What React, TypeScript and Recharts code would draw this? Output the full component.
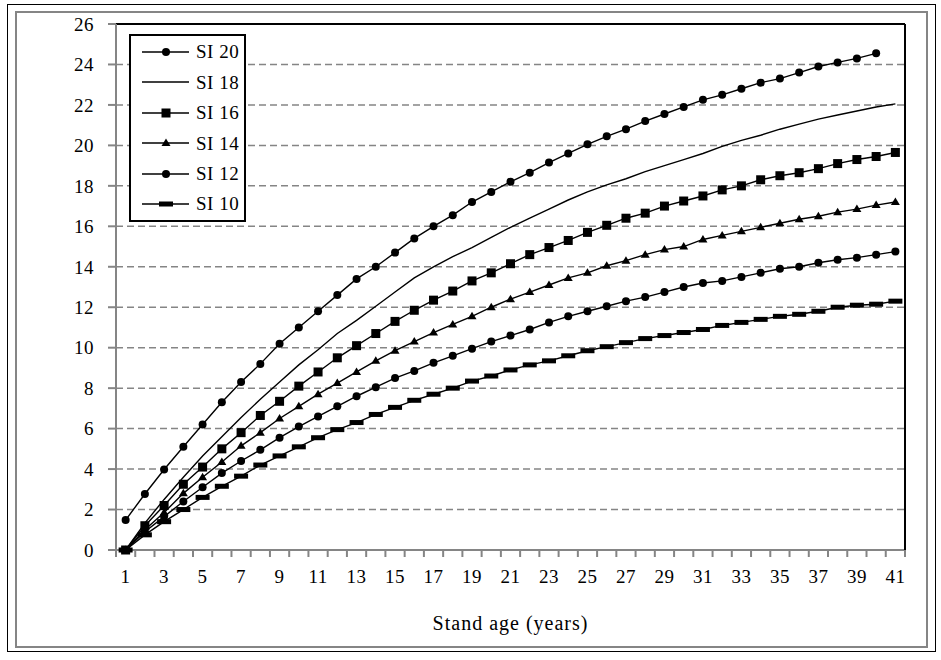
import React from 'react';
import { LineChart, Line, XAxis, YAxis, CartesianGrid, Legend } from 'recharts';

const ages = [
  1, 2, 3, 4, 5, 6, 7, 8, 9, 10, 11, 12, 13, 14, 15, 16, 17, 18, 19, 20,
  21, 22, 23, 24, 25, 26, 27, 28, 29, 30, 31, 32, 33, 34, 35, 36, 37, 38, 39, 40, 41
];

const si20 = [
  1.48, 2.77, 3.98, 5.1, 6.2, 7.3, 8.3, 9.2, 10.2, 11.0, 11.8, 12.6, 13.4, 14.0, 14.7, 15.4, 16.0, 16.55, 17.2, 17.7,
  18.2, 18.65, 19.15, 19.6, 20.05, 20.45, 20.8, 21.2, 21.55, 21.9, 22.25, 22.5, 22.8, 23.1, 23.3, 23.6, 23.9, 24.1, 24.3, 24.55, null
];
const si18 = [
  0, 1.33, 2.5, 3.6, 4.65, 5.6, 6.55, 7.45, 8.3, 9.15, 9.9, 10.7, 11.35, 12.05, 12.75, 13.45, 14.0, 14.5, 14.95, 15.45,
  15.95, 16.4, 16.85, 17.3, 17.7, 18.05, 18.35, 18.7, 19.0, 19.3, 19.6, 19.95, 20.25, 20.5, 20.8, 21.05, 21.3, 21.5, 21.7, 21.9, 22.05
];
const si16 = [
  0, 1.2, 2.2, 3.25, 4.1, 5.0, 5.8, 6.65, 7.35, 8.1, 8.8, 9.5, 10.1, 10.7, 11.3, 11.85, 12.35, 12.8, 13.3, 13.7,
  14.15, 14.6, 14.95, 15.3, 15.7, 16.05, 16.4, 16.65, 17.0, 17.25, 17.5, 17.8, 18.0, 18.3, 18.5, 18.65, 18.85, 19.1, 19.3, 19.45, 19.65
];
const si14 = [
  0, 1.0, 1.85, 2.8, 3.6, 4.35, 5.15, 5.8, 6.5, 7.1, 7.7, 8.25, 8.8, 9.35, 9.85, 10.3, 10.75, 11.15, 11.55, 12.0,
  12.4, 12.75, 13.1, 13.45, 13.7, 14.05, 14.3, 14.6, 14.85, 15.0, 15.35, 15.55, 15.75, 15.95, 16.15, 16.35, 16.5, 16.7, 16.85, 17.05, 17.2
];
const si12 = [
  0, 0.9, 1.65, 2.4, 3.1, 3.8, 4.4, 4.95, 5.55, 6.1, 6.6, 7.1, 7.6, 8.05, 8.5, 8.85, 9.25, 9.6, 9.95, 10.3,
  10.6, 10.9, 11.25, 11.55, 11.8, 12.05, 12.3, 12.5, 12.75, 13.0, 13.2, 13.3, 13.5, 13.7, 13.9, 14.0, 14.2, 14.35, 14.45, 14.6, 14.75
];
const si10 = [
  0, 0.75, 1.4, 2.0, 2.6, 3.15, 3.65, 4.2, 4.65, 5.1, 5.55, 5.95, 6.3, 6.7, 7.05, 7.4, 7.7, 8.0, 8.35, 8.6,
  8.9, 9.15, 9.35, 9.6, 9.85, 10.05, 10.25, 10.45, 10.6, 10.75, 10.9, 11.1, 11.25, 11.4, 11.55, 11.65, 11.8, 12.0, 12.1, 12.15, 12.3
];

const yTicks = [0, 2, 4, 6, 8, 10, 12, 14, 16, 18, 20, 22, 24, 26];

const seriesNames = ['SI 20', 'SI 18', 'SI 16', 'SI 14', 'SI 12', 'SI 10'];
const seriesKeys = ['si20', 'si18', 'si16', 'si14', 'si12', 'si10'];
const seriesMarkers = ['circle', 'none', 'square', 'triangle', 'circle', 'bar'];

const data = ages.map((age, i) => ({
  age,
  si20: si20[i],
  si18: si18[i],
  si16: si16[i],
  si14: si14[i],
  si12: si12[i],
  si10: si10[i],
}));

const FONT = 'Liberation Serif';
const GRAY = '#858585';
const PLOT_LEFT = 116;
const PLOT_RIGHT = 905;
const BAND = (PLOT_RIGHT - PLOT_LEFT) / ages.length;

function marker(kind: string, cx: number, cy: number, key?: any) {
  if (kind === 'circle') return <circle key={key} cx={cx} cy={cy} r={4} fill="#000" />;
  if (kind === 'square') return <rect key={key} x={cx - 4.5} y={cy - 4.5} width={9} height={9} fill="#000" />;
  if (kind === 'triangle')
    return <polygon key={key} points={`${cx},${cy - 4.5} ${cx - 4.5},${cy + 3} ${cx + 4.5},${cy + 3}`} fill="#000" />;
  if (kind === 'bar') return <rect key={key} x={cx - 7} y={cy - 2.5} width={14} height={5} fill="#000" />;
  return <g key={key} />;
}

const makeDot = (kind: string) => (p: any) => {
  if (p.cx == null || p.cy == null || p.value == null) return <g key={p.index} />;
  return marker(kind, p.cx, p.cy, p.index);
};

function AgeTick(props: any) {
  const { x, y, payload } = props;
  const half = BAND / 2;
  return (
    <g>
      <line x1={x - half} y1={y} x2={x - half} y2={y + 7} stroke={GRAY} strokeWidth={2} />
      <line x1={x + half} y1={y} x2={x + half} y2={y + 7} stroke={GRAY} strokeWidth={2} />
      <text
        x={x}
        y={y + 33}
        textAnchor="middle"
        fill="#000"
        style={{ fontFamily: FONT, fontSize: 19, letterSpacing: 0.5 }}
      >
        {payload.value}
      </text>
    </g>
  );
}

function ChartLegend() {
  return (
    <div
      style={{
        width: 113,
        height: 183.2,
        paddingTop: 0.8,
        border: '2px solid #000',
        background: '#fff',
        fontFamily: FONT,
      }}
    >
      {seriesNames.map((name, i) => (
        <div key={name} style={{ display: 'flex', alignItems: 'center', height: 30.4 }}>
          <svg width={47} height={16} style={{ marginLeft: 11, display: 'block' }}>
            <line x1={0} y1={8} x2={47} y2={8} stroke="#000" strokeWidth={1.5} />
            {marker(seriesMarkers[i], 24, 8)}
          </svg>
          <span style={{ marginLeft: 7, fontSize: 19, lineHeight: '19px', letterSpacing: 0.5, color: '#000' }}>
            {name}
          </span>
        </div>
      ))}
    </div>
  );
}

export default function App() {
  return (
    <div
      style={{
        position: 'absolute',
        left: 0,
        top: 0,
        width: 941,
        height: 660,
        background: '#fff',
        fontFamily: FONT,
      }}
    >
      <div style={{ position: 'absolute', left: 7, top: 4, width: 927, height: 646, border: '1.5px solid #000' }} />
      <div style={{ position: 'absolute', left: 15, top: 11, width: 909, height: 633, border: `2px solid ${GRAY}` }} />
      <div style={{ position: 'absolute', left: 0, top: 0 }}>
        <LineChart
          width={941}
          height={660}
          data={data}
          margin={{ top: 22, right: 34, bottom: 30, left: 16 }}
          style={{ fontFamily: FONT }}
        >
          <CartesianGrid
            xAxisId="x"
            yAxisId="y"
            vertical={false}
            stroke={GRAY}
            strokeWidth={1.5}
            strokeDasharray="7 4"
          />
          <XAxis
            xAxisId="x"
            dataKey="age"
            scale="band"
            interval={1}
            height={80}
            axisLine={{ stroke: GRAY, strokeWidth: 2 }}
            tickLine={false}
            tickSize={0}
            tickMargin={0}
            tick={<AgeTick />}
            label={{
              value: 'Stand age (years)',
              position: 'insideBottom',
              offset: 0,
              fill: '#000',
              fontSize: 20,
              style: { fontFamily: FONT, letterSpacing: 1 },
            }}
          />
          <XAxis
            xAxisId="top"
            dataKey="age"
            scale="band"
            orientation="top"
            height={2}
            tick={false}
            tickLine={false}
            axisLine={{ stroke: '#000', strokeWidth: 2 }}
          />
          <YAxis
            yAxisId="y"
            domain={[0, 26]}
            ticks={yTicks}
            width={100}
            tickSize={8}
            tickMargin={14}
            axisLine={{ stroke: GRAY, strokeWidth: 2 }}
            tickLine={{ stroke: GRAY, strokeWidth: 2 }}
            tick={{ fill: '#000', fontSize: 19, style: { fontFamily: FONT, letterSpacing: 0.5 } }}
          />
          <YAxis
            yAxisId="right"
            orientation="right"
            domain={[0, 26]}
            width={2}
            tick={false}
            tickLine={false}
            axisLine={{ stroke: '#000', strokeWidth: 2 }}
          />
          <Legend
            layout="vertical"
            align="center"
            verticalAlign="middle"
            content={<ChartLegend />}
            wrapperStyle={{ left: 129, top: 34, width: 'auto' }}
          />
          {seriesKeys.map((key, i) => (
            <Line
              key={key}
              xAxisId="x"
              yAxisId="y"
              type="linear"
              dataKey={key}
              name={seriesNames[i]}
              stroke="#000"
              strokeWidth={1.4}
              dot={seriesMarkers[i] === 'none' ? false : makeDot(seriesMarkers[i])}
              activeDot={false}
              isAnimationActive={false}
            />
          ))}
        </LineChart>
      </div>
    </div>
  );
}
